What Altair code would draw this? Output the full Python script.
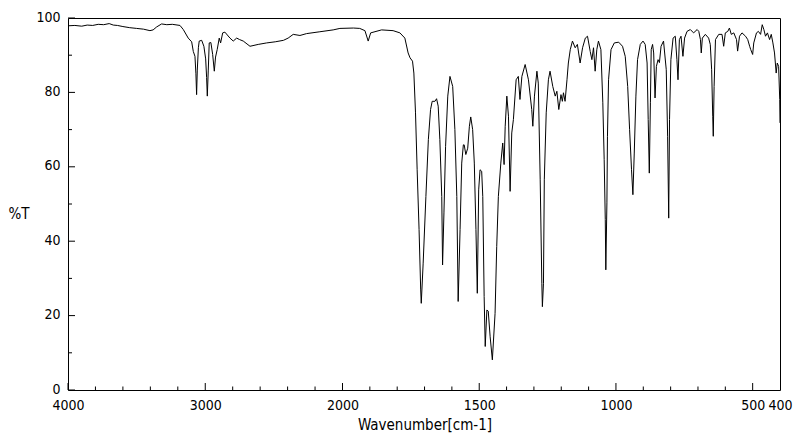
import altair as alt
import pandas as pd

# IR spectrum (wavenumber in cm-1, transmittance in %T)
wavenumber = [
    4000, 3950, 3900, 3860, 3820, 3780, 3740, 3700, 3670, 3640, 3600, 3550, 3500, 3450,
    3403, 3380, 3354, 3318, 3280, 3240, 3184, 3160, 3124, 3099, 3087, 3075, 3068, 3063,
    3058, 3050, 3044, 3026, 3010, 2997, 2990, 2985, 2978, 2971, 2959, 2946, 2934, 2925,
    2913, 2898, 2888, 2873, 2857, 2820, 2796, 2771, 2750, 2723, 2674, 2614, 2553, 2490,
    2430, 2396, 2359, 2310, 2262, 2165, 2068, 2019, 1960, 1937, 1918, 1906, 1897, 1857,
    1815, 1790, 1772, 1760, 1753, 1744, 1739, 1733, 1727, 1720, 1714, 1712, 1705, 1695,
    1686, 1678, 1672, 1662, 1656, 1650, 1644, 1637, 1634, 1629, 1623, 1615, 1607, 1597,
    1589, 1582, 1577, 1570, 1564, 1558, 1555, 1549, 1542, 1536, 1531, 1524, 1518, 1512,
    1507, 1502, 1497, 1491, 1487, 1482, 1478, 1472, 1467, 1460, 1452, 1442, 1436, 1430,
    1421, 1414, 1409, 1405, 1399, 1393, 1387, 1381, 1375, 1365, 1357, 1351, 1344, 1332,
    1320, 1308, 1304, 1298, 1289, 1284, 1277, 1271, 1269, 1265, 1262, 1255, 1247, 1241,
    1231, 1222, 1216, 1209, 1201, 1196, 1192, 1186, 1179, 1174, 1167, 1159, 1149, 1141,
    1131, 1122, 1112, 1104, 1094, 1088, 1082, 1076, 1070, 1064, 1055, 1048, 1043, 1039,
    1037, 1033, 1031, 1027, 1018, 1006, 990, 976, 966, 957, 950, 943, 938, 933,
    927, 921, 911, 901, 893, 886, 882, 878, 874, 871, 866, 862, 857, 852,
    846, 841, 835, 826, 816, 811, 807, 804, 799, 791, 783, 777, 773, 768,
    762, 755, 749, 740, 728, 716, 703, 697, 691, 688, 684, 673, 661, 655,
    650, 646, 644, 641, 636, 624, 612, 606, 600, 591, 585, 578, 569, 559,
    555, 548, 539, 526, 518, 511, 507, 500, 496, 486, 479, 471, 465, 459,
    453, 446, 438, 432, 426, 420, 414, 410, 405, 401, 400,
]
transmittance = [
    97.9, 98.0, 97.8, 98.1, 98.0, 98.3, 98.2, 98.5, 98.1, 98.0, 97.7, 97.4, 97.2, 97.0,
    96.6, 96.8, 97.6, 98.4, 98.2, 98.3, 98.0, 96.9, 94.6, 93.6, 91.0, 89.7, 85.0, 79.4,
    86.0, 92.0, 93.8, 94.0, 92.4, 89.0, 84.0, 79.0, 86.0, 93.3, 93.4, 90.2, 85.7, 89.5,
    91.5, 94.6, 93.3, 96.0, 96.2, 94.6, 93.8, 94.6, 94.2, 93.8, 92.4, 92.9, 93.3, 93.6,
    94.0, 94.6, 95.6, 95.3, 95.8, 96.3, 96.8, 97.2, 97.3, 97.2, 96.6, 93.8, 96.0, 96.8,
    96.6, 96.0, 94.6, 90.6, 89.3, 88.4, 85.2, 74.5, 59.2, 43.1, 26.9, 23.3, 34.1, 52.0,
    67.3, 75.4, 77.6, 77.6, 78.3, 76.3, 67.3, 52.0, 33.6, 47.6, 65.5, 79.0, 84.3, 81.6,
    70.0, 52.0, 23.8, 43.1, 61.0, 65.9, 65.9, 63.3, 65.0, 70.9, 73.4, 70.0, 61.0, 43.1,
    26.0, 53.8, 59.2, 58.8, 52.0, 25.1, 11.7, 21.5, 21.2, 14.3, 8.1, 20.6, 38.6, 52.0,
    61.0, 66.4, 60.6, 70.9, 79.0, 73.6, 53.4, 69.1, 72.7, 83.4, 84.3, 78.1, 84.3, 87.5,
    83.4, 75.4, 70.9, 79.0, 85.7, 82.5, 56.5, 28.7, 22.4, 28.7, 56.5, 74.5, 83.4, 85.7,
    81.6, 79.0, 80.3, 75.4, 79.4, 77.6, 79.9, 77.6, 83.4, 87.9, 91.5, 93.8, 92.0, 92.9,
    87.9, 92.0, 94.6, 95.1, 91.0, 88.8, 92.0, 85.7, 91.5, 93.8, 91.5, 77.2, 61.9, 45.8,
    32.3, 50.3, 68.2, 83.4, 91.5, 93.3, 93.5, 92.4, 89.7, 81.6, 70.0, 59.2, 52.5, 63.7,
    79.0, 88.8, 92.9, 93.8, 92.9, 87.9, 72.7, 58.3, 77.2, 91.5, 92.9, 90.6, 78.5, 87.0,
    88.8, 88.0, 92.4, 93.8, 86.1, 68.2, 46.2, 72.7, 88.8, 94.6, 95.1, 88.8, 83.4, 94.2,
    95.1, 89.7, 94.6, 96.4, 96.9, 96.0, 96.9, 96.4, 94.2, 90.6, 94.6, 95.6, 94.6, 92.9,
    86.1, 73.6, 68.2, 81.6, 94.2, 95.6, 95.6, 92.4, 96.0, 96.4, 97.3, 95.6, 96.0, 94.2,
    91.1, 95.1, 96.0, 95.1, 94.2, 92.4, 91.5, 90.2, 93.3, 96.0, 96.4, 95.6, 98.2, 96.9,
    95.1, 96.0, 94.2, 95.6, 93.3, 90.6, 85.2, 87.9, 87.0, 78.1, 71.8,
]

x_tick_labels = [4000, 3000, 2000, 1500, 1000, 500, 400]
x_major_ticks = [4000, 3000, 2000, 1500, 1000, 500]
x_minor_ticks = [3800, 3600, 3400, 3200, 2800, 2600, 2400, 2200,
                 1900, 1800, 1700, 1600, 1400, 1300, 1200, 1100,
                 900, 800, 700, 600]
y_tick_labels = [0, 20, 40, 60, 80, 100]
y_minor_ticks = [10, 30, 50, 70, 90]

FONT = "Liberation Sans Narrow, DejaVu Sans Condensed, sans-serif"

df = pd.DataFrame({"wn": wavenumber, "T": transmittance})
xscale = alt.Scale(domain=[4000, 2000, 400], range=[0, 274.5, 712], nice=False, zero=False)
yscale = alt.Scale(domain=[0, 100], nice=False, zero=False)

x_axis = alt.Axis(values=x_tick_labels, format="d", title="Wavenumber[cm-1]",
                  ticks=False, tickSize=0, domain=False, grid=False,
                  labelFont=FONT, labelFontSize=14, labelColor="black",
                  labelPadding=8, labelFlush=False, labelOverlap=False, labelBound=False,
                  titleFont=FONT, titleFontSize=15, titleFontWeight="normal",
                  titleColor="black", titleX=356.5, titleY=34,
                  titleAlign="center", titleBaseline="middle")
y_axis = alt.Axis(values=y_tick_labels, format="d", title="%T",
                  ticks=False, tickSize=0, domain=False, grid=False,
                  labelFont=FONT, labelFontSize=14, labelColor="black",
                  labelPadding=8, labelFlush=False, labelOverlap=False, labelBound=False,
                  labelBaseline="middle", labelOffset=-1,
                  titleFont=FONT, titleFontSize=15, titleFontWeight="normal",
                  titleColor="black", titleAngle=0, titleX=-60, titleY=195,
                  titleAlign="left", titleBaseline="middle")

line = alt.Chart(df).mark_line(color="black", strokeWidth=1, clip=True).encode(
    x=alt.X("wn:Q", scale=xscale, axis=x_axis),
    y=alt.Y("T:Q", scale=yscale, axis=y_axis),
)

xmaj = alt.Chart(pd.DataFrame({"t": x_major_ticks})).mark_rule(color="black", strokeWidth=1).encode(
    x=alt.X("t:Q", scale=xscale, axis=x_axis), y=alt.value(372), y2=alt.value(365))
xmin = alt.Chart(pd.DataFrame({"t": x_minor_ticks})).mark_rule(color="black", strokeWidth=1).encode(
    x=alt.X("t:Q", scale=xscale, axis=x_axis), y=alt.value(372), y2=alt.value(368.5))
ymaj = alt.Chart(pd.DataFrame({"t": y_tick_labels})).mark_rule(color="black", strokeWidth=1).encode(
    y=alt.Y("t:Q", scale=yscale, axis=y_axis), x=alt.value(0), x2=alt.value(7))
ymin = alt.Chart(pd.DataFrame({"t": y_minor_ticks})).mark_rule(color="black", strokeWidth=1).encode(
    y=alt.Y("t:Q", scale=yscale, axis=y_axis), x=alt.value(0), x2=alt.value(4))

chart = alt.layer(line, xmaj, xmin, ymaj, ymin).properties(
    width=712, height=372,
    padding={"left": 68, "top": 18, "right": 20, "bottom": 51},
    autosize=alt.AutoSizeParams(type="none"),
    background="white",
).configure_view(stroke="black", strokeWidth=1)

chart.save("out.html", embed_options={"renderer": "svg", "actions": False})
